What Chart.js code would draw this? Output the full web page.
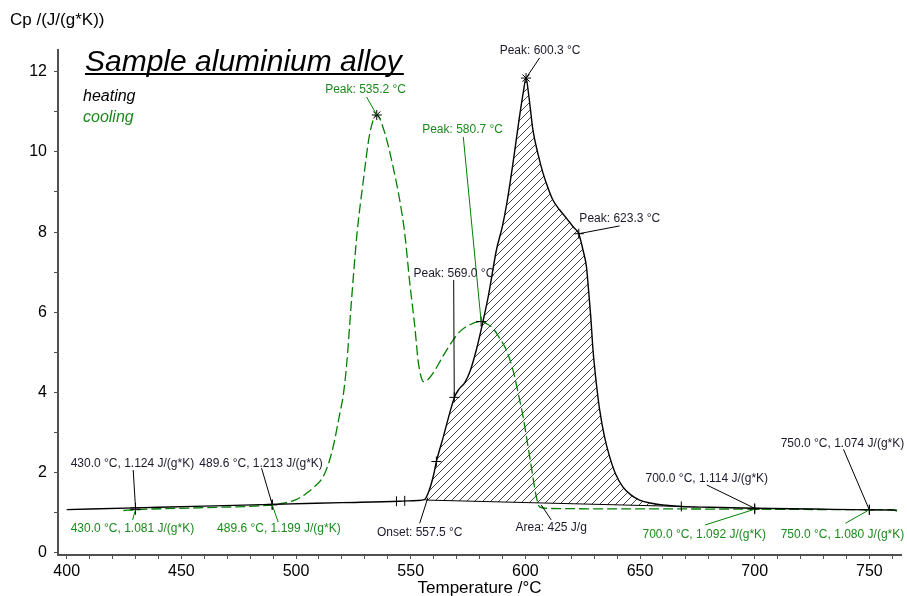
<!DOCTYPE html>
<html>
<head>
<meta charset="utf-8">
<script src="https://cdn.jsdelivr.net/npm/chart.js@4"></script>
<style>
  html, body { margin: 0; padding: 0; background: #fff; }
  #wrap { width: 907px; height: 596px; }
</style>
</head>
<body>
<div id="wrap"><canvas id="c" width="907" height="596"></canvas></div>
<script>
// ---------------- DATA ----------------
const tempHeat = [400, 430, 460, 489.6, 520, 545, 553, 556, 558, 560, 561.2, 564, 567.8, 569.2, 571, 573.6, 576, 578.6, 581.5, 584, 587.4, 590, 592, 594.6, 597, 599, 600.3, 601.5, 603.3, 605.5, 607.7, 610, 612, 615, 617.9, 621, 623.3, 625.1, 626.6, 627.3, 628.5, 629.5, 631, 632.4, 634.5, 636.7, 639.5, 642.5, 646, 649.8, 655, 661.4, 668, 680, 700, 725, 750, 762];
const cpHeat   = [1.08, 1.124, 1.168, 1.213, 1.255, 1.29, 1.31, 1.33, 1.55, 1.95, 2.28, 2.85, 3.65, 3.90, 4.08, 4.25, 4.55, 5.06, 5.77, 6.45, 7.56, 8.15, 8.75, 9.72, 10.7, 11.45, 11.84, 11.4, 10.55, 9.95, 9.47, 9.08, 8.80, 8.55, 8.35, 8.12, 7.96, 7.56, 7.15, 6.73, 5.9, 5.06, 4.2, 3.57, 2.9, 2.41, 1.95, 1.65, 1.45, 1.32, 1.24, 1.19, 1.16, 1.14, 1.114, 1.095, 1.074, 1.07];

const tempCool = [424.7, 430, 460, 489.6, 494.4, 500, 504.6, 508, 511.8, 514, 516.2, 519.1, 520.5, 522, 524.2, 526.6, 529.2, 532.2, 535.2, 538.7, 542.3, 545.2, 547.4, 549.6, 551.8, 553.2, 554.5, 555.6, 557, 559.7, 564, 568.5, 572, 575.7, 580.7, 583, 585.9, 588.5, 591.7, 594.6, 597, 599, 601.9, 604.8, 606.2, 610, 650, 700, 750, 760, 763.5];
const cpCool   = [1.06, 1.081, 1.13, 1.199, 1.24, 1.33, 1.49, 1.65, 1.90, 2.2, 2.65, 3.48, 3.9, 4.65, 6.31, 7.97, 9.22, 10.47, 10.92, 10.47, 9.63, 8.80, 7.97, 6.73, 5.64, 4.81, 4.40, 4.27, 4.30, 4.48, 4.90, 5.31, 5.55, 5.69, 5.77, 5.72, 5.60, 5.38, 5.06, 4.56, 3.95, 3.40, 2.40, 1.40, 1.15, 1.11, 1.10, 1.092, 1.080, 1.078, 1.0];

// integration region (heating peak) and its baseline
const areaStartT = 556.5, areaEndT = 668;
const baseT  = [556.5, 668];
const baseCp = [1.32, 1.16];

// markers
const heatMarkT = [430, 489.6, 561.2, 569.0, 623.3, 700, 750];
const heatMarkV = [1.124, 1.213, 2.28, 3.88, 7.96, 1.114, 1.074];
const peakMarkT = [535.2, 600.3];
const peakMarkV = [10.92, 11.84];
const coolMarkT = [430, 489.6, 580.7, 700, 750];
const coolMarkV = [1.081, 1.199, 5.77, 1.092, 1.080];
const limitT = [543.8, 547.4, 668];
const limitV = [1.29, 1.30, 1.16];

// annotations
const annText = ['430.0 °C, 1.124 J/(g*K)', '489.6 °C, 1.213 J/(g*K)', '430.0 °C, 1.081 J/(g*K)', '489.6 °C, 1.199 J/(g*K)',
  '700.0 °C, 1.114 J/(g*K)', '700.0 °C, 1.092 J/(g*K)', '750.0 °C, 1.074 J/(g*K)', '750.0 °C, 1.080 J/(g*K)',
  'Peak: 535.2 °C', 'Peak: 580.7 °C', 'Peak: 600.3 °C', 'Peak: 623.3 °C', 'Peak: 569.0 °C', 'Onset: 557.5 °C', 'Area: 425 J/g'];
const annT = [430, 489.6, 430, 489.6, 700, 700, 750, 750, 535.2, 580.7, 600.3, 623.3, 569.0, 557.5, 606.9];
const annV = [1.124, 1.213, 1.081, 1.199, 1.114, 1.092, 1.074, 1.080, 10.92, 5.77, 11.84, 7.96, 3.88, 1.38, 1.20];
const annSeries = ['h', 'h', 'c', 'c', 'h', 'c', 'h', 'c', 'c', 'c', 'h', 'h', 'h', 'h', 'h'];

const xTickStep = 10, xLabelStep = 50;
const yTickStep = 1, yLabelStep = 2;

// ---------------- LAYOUT / STYLE ----------------
// pixel offsets: [leaderEndDx, leaderEndDy, labelDx, labelDy]
const annLayout = [
  [-2.3, -37.9, -3.1, -44.6], [-10.6, -36.1, -11.1, -41.1], [-2.9, 10.3, -3.1, 18.6], [6, 17.1, 6.7, 23.4],
  [-47.9, -23.3, -47.9, -30], [-49.6, 15.8, -50.4, 25.8], [-25.9, -60.6, -26.9, -66.6], [-23.9, 13.6, -26.9, 25.3],
  [-10.2, -18.1, -11.2, -25.1], [-17.8, -184.6, -18.5, -191.6], [13.6, -20.2, 14, -27.5], [40.8, -7.8, 41, -14.8],
  [-0.6, -117.4, -0.4, -124.1], [-8.2, 25.6, -8.2, 35], [10, 15, 10, 23.3]
];
const FONT = '"Liberation Sans", Arial, Helvetica, sans-serif';
const GREEN = '#008000';
const GREEN_TXT = '#1b8a1b';
const BLACK = '#000000';
const TXT = '#1a1a2a';
const AXIS = '#505050';

Chart.defaults.font.family = FONT;

function pts(xs, ys) { return xs.map((t, i) => ({ x: t, y: ys[i] })); }
function isMult(v, step) { const q = v / step; return Math.abs(q - Math.round(q)) < 1e-6; }

// hatch pattern
const pc = document.createElement('canvas');
pc.width = 8; pc.height = 8;
const pctx = pc.getContext('2d');
pctx.strokeStyle = '#333';
pctx.lineWidth = 0.9;
pctx.beginPath();
pctx.moveTo(0, 8); pctx.lineTo(8, 0);
pctx.moveTo(-1, 1); pctx.lineTo(1, -1);
pctx.moveTo(7, 9); pctx.lineTo(9, 7);
pctx.stroke();
const hatch = document.getElementById('c').getContext('2d').createPattern(pc, 'repeat');

const areaPts = pts(tempHeat, cpHeat).filter(p => p.x >= areaStartT && p.x <= areaEndT);
areaPts.unshift({ x: baseT[0], y: baseCp[0] });

const annPlugin = {
  id: 'annotate',
  afterDatasetsDraw(chart) {
    const { ctx, scales: { x, y } } = chart;
    ctx.save();
    ctx.font = '12px ' + FONT;
    ctx.textAlign = 'center';
    ctx.textBaseline = 'middle';
    annText.forEach((txt, i) => {
      const px = x.getPixelForValue(annT[i]);
      const py = y.getPixelForValue(annV[i]);
      const L = annLayout[i];
      const isCool = annSeries[i] === 'c';
      ctx.strokeStyle = isCool ? GREEN : BLACK;
      ctx.lineWidth = 1;
      ctx.beginPath();
      ctx.moveTo(px, py);
      ctx.lineTo(px + L[0], py + L[1]);
      ctx.stroke();
      ctx.fillStyle = isCool ? GREEN_TXT : TXT;
      ctx.fillText(txt, px + L[2], py + L[3]);
    });
    ctx.restore();
  },
  afterDraw(chart) {
    const ctx = chart.ctx;
    ctx.save();
    ctx.fillStyle = BLACK;
    ctx.font = '17px ' + FONT;
    ctx.textAlign = 'left';
    ctx.textBaseline = 'middle';
    ctx.fillText('Cp /(J/(g*K))', 10, 20);
    ctx.font = 'italic 30px ' + FONT;
    ctx.textBaseline = 'alphabetic';
    const title = 'Sample aluminium alloy';
    ctx.fillText(title, 85, 71);
    const w = ctx.measureText(title).width;
    ctx.fillRect(85, 73, w + 2, 2);
    ctx.font = 'italic 16px ' + FONT;
    ctx.textBaseline = 'middle';
    ctx.fillStyle = BLACK;
    ctx.fillText('heating', 83, 97);
    ctx.fillStyle = GREEN_TXT;
    ctx.fillText('cooling', 83, 118);
    ctx.restore();
  }
};

new Chart(document.getElementById('c'), {
  type: 'line',
  data: {
    datasets: [
      { label: 'area', data: areaPts, borderWidth: 0, pointRadius: 0, fill: 1, backgroundColor: hatch, cubicInterpolationMode: 'monotone', order: 5 },
      { label: 'baseline', data: pts(baseT, baseCp), borderColor: BLACK, borderWidth: 1, pointRadius: 0, fill: false, order: 4 },
      { label: 'heating', data: pts(tempHeat, cpHeat), borderColor: BLACK, borderWidth: 1.4, pointRadius: 0, fill: false, cubicInterpolationMode: 'monotone', order: 2 },
      { label: 'cooling', data: pts(tempCool, cpCool), borderColor: GREEN, borderWidth: 1.3, borderDash: [10, 4], pointRadius: 0, fill: false, cubicInterpolationMode: 'monotone', order: 3 },
      { label: 'hm', data: pts(heatMarkT, heatMarkV), showLine: false, pointStyle: 'cross', pointRadius: 5, borderColor: BLACK, borderWidth: 1, order: 1 },
      { label: 'cm', data: pts(coolMarkT, coolMarkV), showLine: false, pointStyle: 'cross', pointRadius: 5, borderColor: BLACK, borderWidth: 1, order: 1 },
      { label: 'pk', data: pts(peakMarkT, peakMarkV), showLine: false, pointStyle: 'star', pointRadius: 5, borderColor: BLACK, borderWidth: 1, order: 1 },
      { label: 'lim', data: pts(limitT, limitV), showLine: false, pointStyle: 'line', rotation: 90, pointRadius: 5, borderColor: BLACK, borderWidth: 1, order: 1 }
    ]
  },
  options: {
    responsive: false,
    animation: false,
    events: [],
    layout: { padding: { top: 50, left: 0, right: 0, bottom: 0 } },
    plugins: { legend: { display: false }, tooltip: { enabled: false }, title: { display: false } },
    scales: {
      x: {
        type: 'linear', min: 396.2, max: 763.8, bounds: 'ticks',
        afterFit: s => { s.height = 41; s.paddingLeft = 0; s.paddingRight = 0; },
        afterBuildTicks: s => { s.ticks = s.ticks.filter(t => isMult(t.value, xTickStep)); },
        grid: { drawOnChartArea: false, drawTicks: true, tickLength: 4, tickColor: AXIS, tickWidth: 1 },
        border: { display: true, color: AXIS, width: 2 },
        ticks: {
          stepSize: xTickStep, autoSkip: false, includeBounds: false, maxRotation: 0, padding: 3,
          color: BLACK, font: { size: 16 },
          callback: v => (isMult(v, xLabelStep) ? String(Math.round(v)) : '')
        },
        title: { display: true, text: 'Temperature /°C', color: BLACK, font: { size: 17, lineHeight: 0.85 }, padding: { top: 0, bottom: 0 } }
      },
      y: {
        type: 'linear', min: -0.05, max: 12.54,
        afterFit: s => { s.width = 58; s.paddingTop = 0; s.paddingBottom = 0; },
        grid: { drawOnChartArea: false, drawTicks: true, tickLength: 4, tickColor: AXIS, tickWidth: 1 },
        border: { display: true, color: AXIS, width: 2 },
        ticks: {
          stepSize: yTickStep, autoSkip: false, includeBounds: false, padding: 7,
          color: BLACK, font: { size: 16 },
          callback: v => (isMult(v, yLabelStep) ? String(Math.round(v)) : '')
        }
      }
    }
  },
  plugins: [annPlugin]
});
</script>
</body>
</html>
